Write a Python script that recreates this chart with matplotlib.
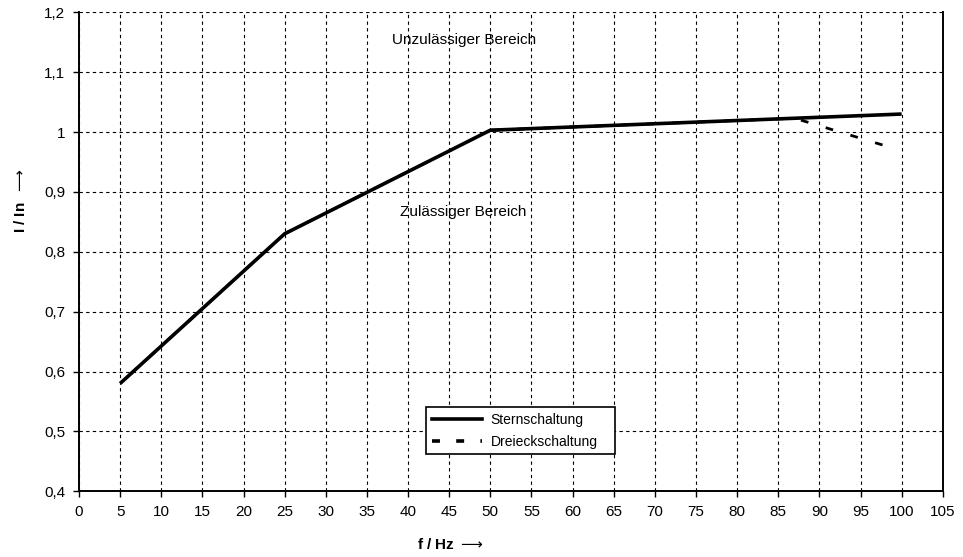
import matplotlib.pyplot as plt
from matplotlib.lines import Line2D

plt.rcParams['font.family'] = ['Liberation Sans', 'DejaVu Sans']

# === Data ===
stern_f = [5, 25, 50, 100]
stern_i = [0.58, 0.83, 1.003, 1.03]

dreieck_f = [5, 25, 50, 87, 98]
dreieck_i = [0.58, 0.83, 1.003, 1.023, 0.977]

x_ticks = list(range(0, 106, 5))
y_ticks = [0.4, 0.5, 0.6, 0.7, 0.8, 0.9, 1.0, 1.1, 1.2]
y_labels = ["0,4", "0,5", "0,6", "0,7", "0,8", "0,9", "1", "1,1", "1,2"]

# === Figure ===
fig = plt.figure(figsize=(9.63, 5.57), dpi=100)
ax = fig.add_axes([0.082, 0.118, 0.897, 0.86])

ax.plot(dreieck_f, dreieck_i, color='black', lw=2.0,
        linestyle=(4, (2.8, 6.5)), zorder=2)
ax.plot(stern_f, stern_i, color='black', lw=2.6, solid_capstyle='butt',
        zorder=3)

ax.set_xlim(0, 105)
ax.set_ylim(0.4, 1.2)
ax.set_xticks(x_ticks)
ax.set_yticks(y_ticks)
ax.set_yticklabels(y_labels)
ax.tick_params(direction='out', length=4, width=1, labelsize=11, pad=6)

ax.grid(True, color='black', linestyle=(0, (3, 3)), lw=0.8)
ax.set_axisbelow(True)

for side in ['left', 'bottom', 'right']:
    ax.spines[side].set_linewidth(1.4)
ax.spines['top'].set_visible(False)

ax.text(38, 1.153, "Unzulässiger Bereich", fontsize=11, va='center')
ax.text(39, 0.867, "Zulässiger Bereich", fontsize=11, va='center')

# legend proxies (dash phase of the real line is shifted)
h_stern = Line2D([], [], color='black', lw=2.6)
h_dreieck = Line2D([], [], color='black', lw=2.6, linestyle=(0, (2.2, 4.5)))
leg = ax.legend([h_stern, h_dreieck], ['Sternschaltung', 'Dreieckschaltung'],
                loc='lower left',
                bbox_to_anchor=(41.4 / 105, (0.45 - 0.4) / 0.8,
                                (66 - 41.4) / 105, 0.095 / 0.8),
                mode='expand', fontsize=10, frameon=True, fancybox=False,
                edgecolor='black', framealpha=1, borderpad=0.4,
                handlelength=3.6, handletextpad=0.6, labelspacing=0.6)
leg.get_frame().set_linewidth(1.2)

fig.text(0.468, 0.022, r"f / Hz $\longrightarrow$", fontsize=11,
         fontweight='bold', ha='center', va='center')
fig.text(0.021, 0.64, r"I / In  $\longrightarrow$", fontsize=11,
         fontweight='bold', ha='center', va='center', rotation=90)

fig.savefig('out.png', dpi=100)
